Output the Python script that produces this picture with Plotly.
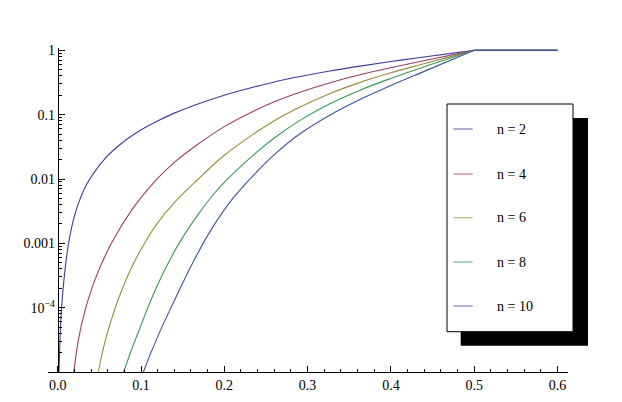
import plotly.graph_objects as go

# ---- data (x, y) ----
labels = ["n = 2", "n = 4", "n = 6", "n = 8", "n = 10"]
colors = ["rgb(61,61,153)", "rgb(153,61,113)", "rgb(153,139,61)", "rgb(61,153,84)", "rgb(61,85,153)"]

x_n2 = [0.0008, 0.0016, 0.0048, 0.0127, 0.021, 0.0348, 0.0568, 0.0768, 0.0968, 0.1168, 0.14, 0.1708,
        0.2, 0.2369, 0.26, 0.2909, 0.325, 0.3629, 0.4, 0.435, 0.5]
y_n2 = [2.57e-6, 1.02e-5, 1.06e-4, 9.33e-4, 2.92e-3, 8.26e-3, 0.0208, 0.0360, 0.0547, 0.0762, 0.1057, 0.151,
        0.201, 0.2714, 0.3228, 0.3913, 0.473, 0.569, 0.669, 0.773, 1.0]

x_n4 = [0.015, 0.0193, 0.025, 0.0328, 0.045, 0.0646, 0.0908, 0.1168, 0.14, 0.1708, 0.2, 0.2369,
        0.26, 0.2909, 0.325, 0.3629, 0.4, 0.435, 0.5]
y_n4 = [3.3e-6, 1.0e-5, 3.25e-5, 9.0e-5, 2.78e-4, 1.01e-3, 3.59e-3, 9.26e-3, 0.0181, 0.0366, 0.0652, 0.1163,
        0.159, 0.2239, 0.3087, 0.4173, 0.5377, 0.671, 1.0]

x_n6 = [0.040, 0.0487, 0.055, 0.0628, 0.075, 0.0908, 0.105, 0.1188, 0.14, 0.1688, 0.2, 0.2369,
        0.26, 0.2909, 0.325, 0.3629, 0.4, 0.435, 0.5]
y_n6 = [2.57e-6, 1.0e-5, 2.4e-5, 5.58e-5, 1.62e-4, 4.8e-4, 1.04e-3, 1.99e-3, 4.31e-3, 0.0100, 0.0234, 0.0518,
        0.0807, 0.1315, 0.2084, 0.318, 0.448, 0.597, 1.0]

x_n8 = [0.068, 0.0788, 0.088, 0.0988, 0.118, 0.1388, 0.155, 0.1708, 0.1828, 0.2, 0.2369, 0.26,
        0.2909, 0.325, 0.3629, 0.4, 0.435, 0.5]
y_n8 = [3.47e-6, 9.6e-6, 2.1e-5, 4.88e-5, 2.0e-4, 6.98e-4, 1.56e-3, 3.09e-3, 4.93e-3, 8.85e-3, 0.0248, 0.0434,
        0.0816, 0.1439, 0.2405, 0.3664, 0.527, 1.0]

x_n10 = [0.093, 0.1028, 0.12, 0.1388, 0.16, 0.1828, 0.21, 0.2369, 0.26, 0.2909, 0.325, 0.3629,
         0.4, 0.435, 0.5]
y_n10 = [4.27e-6, 1.0e-5, 3.55e-5, 1.19e-4, 4.41e-4, 1.52e-3, 4.94e-3, 0.01217, 0.0240, 0.0506, 0.0955, 0.172,
         0.2835, 0.4426, 1.0]

x_flat = [0.5, 0.6]
y_flat = [1.0, 1.0]

series_x = [x_n2, x_n4, x_n6, x_n8, x_n10]
series_y = [y_n2, y_n4, y_n6, y_n8, y_n10]

x_ticks = [0.0, 0.1, 0.2, 0.3, 0.4, 0.5, 0.6]
y_ticks = [1e-4, 1e-3, 1e-2, 1e-1, 1]
y_ticktext = ["10<sup>\u22124</sup>", "0.001", "0.01", "0.1", "1"]

fig = go.Figure()
for xs, ys, c in zip(series_x, series_y, colors):
    fig.add_trace(go.Scatter(x=xs, y=ys, mode="lines",
                             line=dict(color=c, width=1.1, shape="spline", smoothing=1.0),
                             showlegend=False, hoverinfo="skip"))
for c in colors:
    fig.add_trace(go.Scatter(x=x_flat, y=y_flat, mode="lines", line=dict(color=c, width=1.1),
                             showlegend=False, hoverinfo="skip", cliponaxis=False))

# page has an 8px body margin; page coords -> figure coords
OFF = 8
W, H = 622 - OFF, 402 - OFF
L, R, T, B = 48 - OFF, 568 - OFF, 48 - OFF, 372 - OFF

def px(x):
    return (x - OFF - L) / (R - L)

def py(y):
    return (B - (y - OFF)) / (B - T)

minor_y = [m * 10 ** e for e in range(-5, 0) for m in range(2, 10)]

fig.update_layout(
    width=W, height=H,
    margin=dict(l=L, r=W - R, t=T, b=H - B, autoexpand=False),
    paper_bgcolor="white", plot_bgcolor="white",
    template="none",
    font=dict(family="Liberation Serif, Times New Roman, serif", size=14, color="black"),
    xaxis=dict(range=[-0.01165, 0.6126], showgrid=False, zeroline=False, showline=True, linecolor="black",
               linewidth=1, ticks="inside", ticklen=6, tickcolor="black", tickvals=x_ticks,
               tickformat=".1f", minor=dict(ticks="inside", ticklen=3, dtick=0.02, tick0=0, tickcolor="black"),
               automargin=False),
    yaxis=dict(type="log", range=[-5, 0.0365], showgrid=False, zeroline=False, showline=True,
               linecolor="black", linewidth=1, anchor="free", position=px(57.7),
               ticks="inside", ticklen=6, tickcolor="black", tickvals=y_ticks, ticktext=y_ticktext,
               minor=dict(ticks="inside", ticklen=3, tickvals=minor_y, tickcolor="black"),
               automargin=False),
)

# manual legend with drop shadow
fig.add_shape(type="rect", xref="paper", yref="paper", x0=px(460.7), x1=px(588), y0=py(118), y1=py(345.7),
              fillcolor="black", line=dict(width=0), layer="above")
fig.add_shape(type="rect", xref="paper", yref="paper", x0=px(447), x1=px(573), y0=py(104), y1=py(331.7),
              fillcolor="white", line=dict(color="black", width=1), layer="above")
leg_y = [129, 174, 217.7, 262, 306]
for lab, c, yy in zip(labels, colors, leg_y):
    fig.add_shape(type="line", xref="paper", yref="paper", x0=px(453.3), x1=px(472.7), y0=py(yy), y1=py(yy),
                  line=dict(color=c, width=1.5), opacity=0.55, layer="above")
    fig.add_annotation(xref="paper", yref="paper", x=px(495), y=py(yy), text=lab, showarrow=False,
                       xanchor="left", yanchor="middle", font=dict(size=14, color="black"))

fig.write_html("out.html")
